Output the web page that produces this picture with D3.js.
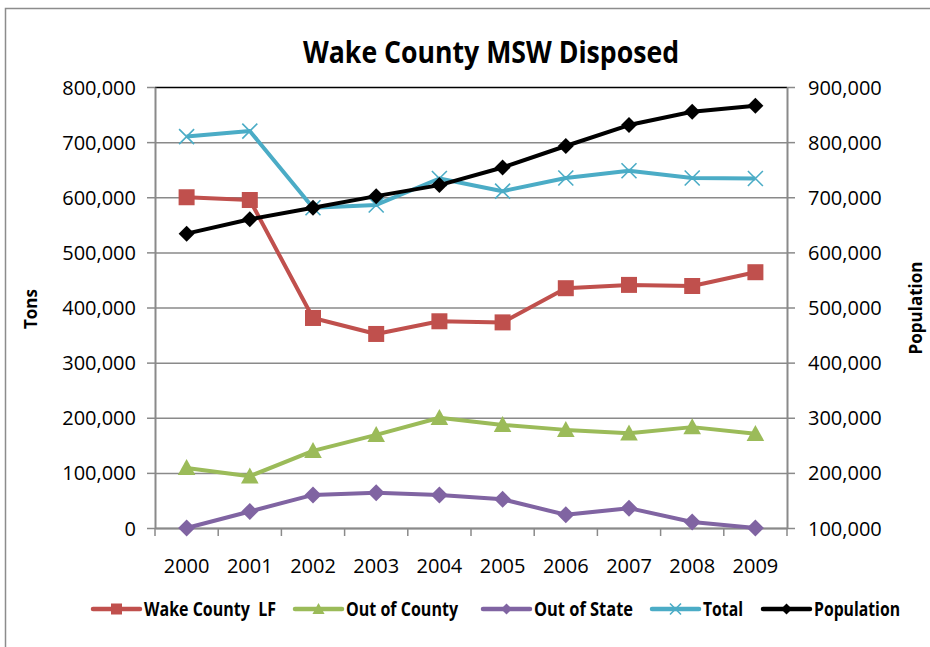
<!DOCTYPE html>
<html>
<head>
  <meta charset="utf-8">
  <script src="https://d3js.org/d3.v7.min.js"></script>
  <style>
    body { margin: 0; background: #fff; }
    text { font-family: "Open Sans", sans-serif; fill: #000; }
  </style>
</head>
<body>
  <div id="chart"></div>
  <script type="text/javascript">
  var years = ["2000", "2001", "2002", "2003", "2004", "2005", "2006", "2007", "2008", "2009"];
  var wakeCountyLF = [600000, 595000, 381000, 352000, 375000, 373000, 435000, 441000, 439000, 464000];
  var outOfCounty = [109000, 94000, 140000, 169000, 200000, 187000, 178000, 172000, 183000, 171000];
  var outOfState = [0, 30000, 60000, 64000, 60000, 52000, 24000, 36000, 11000, 0];
  var total = [710000, 720000, 581000, 586000, 634000, 611000, 635000, 648000, 635000, 634000];
  var population = [634000, 660000, 681000, 702000, 722000, 754000, 793000, 831000, 855000, 866000];
  var leftTicks = [0, 100000, 200000, 300000, 400000, 500000, 600000, 700000, 800000];
  var rightTicks = [100000, 200000, 300000, 400000, 500000, 600000, 700000, 800000, 900000];

  var W = 930, H = 647;
  var plotLeft = 155, plotRight = 787, plotTop = 87, plotBottom = 528;

  var svg = d3.select("#chart").append("svg")
      .attr("width", W)
      .attr("height", H);

  // outer chart border
  svg.append("rect")
      .attr("x", 5.5).attr("y", 8.5)
      .attr("width", W + 40).attr("height", H + 40)
      .attr("fill", "#fff")
      .attr("stroke", "#8c8c8c")
      .attr("stroke-width", 1.5);

  var x = d3.scaleBand().domain(years).range([plotLeft, plotRight]).padding(0);
  var yL = d3.scaleLinear().domain([0, 800000]).range([plotBottom, plotTop]);
  var yR = d3.scaleLinear().domain([100000, 900000]).range([plotBottom, plotTop]);
  var cx = function(d, i) { return x(years[i]) + x.bandwidth() / 2; };

  // gridlines
  var grid = svg.append("g")
      .attr("transform", "translate(" + plotLeft + ",0)")
      .call(d3.axisLeft(yL).tickValues(leftTicks).tickSize(-(plotRight - plotLeft)).tickFormat(""));
  grid.select(".domain").remove();
  grid.selectAll("line").attr("stroke", "#8a8a8a").attr("stroke-width", 1.5);
  grid.selectAll(".tick").filter(function(d) { return d === 800000; })
      .select("line").attr("stroke", "#000");

  // left axis
  var axL = svg.append("g")
      .attr("transform", "translate(" + plotLeft + ",0)")
      .call(d3.axisLeft(yL).tickValues(leftTicks).tickSize(8).tickSizeOuter(0).tickPadding(11)
        .tickFormat(d3.format(",")));
  axL.select(".domain").attr("stroke", "#8a8a8a").attr("stroke-width", 2);
  axL.selectAll("line").attr("stroke", "#8a8a8a").attr("stroke-width", 1.5);
  axL.selectAll("text").style("font-size", "20px").attr("dy", "0.35em");

  // right axis
  var axR = svg.append("g")
      .attr("transform", "translate(" + plotRight + ",0)")
      .call(d3.axisRight(yR).tickValues(rightTicks).tickSize(8).tickSizeOuter(0).tickPadding(13)
        .tickFormat(d3.format(",")));
  axR.select(".domain").attr("stroke", "#8a8a8a").attr("stroke-width", 2);
  axR.selectAll("line").attr("stroke", "#8a8a8a").attr("stroke-width", 1.5);
  axR.selectAll("text").style("font-size", "20px").attr("dy", "0.35em");

  // bottom axis: labels centred, ticks at category boundaries
  var axB = svg.append("g")
      .attr("transform", "translate(0," + plotBottom + ")")
      .call(d3.axisBottom(x).tickSize(0).tickPadding(38));
  axB.select(".domain").attr("stroke", "#8a8a8a").attr("stroke-width", 2);
  axB.selectAll("text").style("font-size", "20px").attr("dy", "0.35em");
  var bounds = years.map(function(d) { return x(d); }).concat([x.range()[1]]);
  svg.append("g").selectAll("line")
      .data(bounds)
    .enter().append("line")
      .attr("x1", function(d) { return d; }).attr("x2", function(d) { return d; })
      .attr("y1", plotBottom).attr("y2", plotBottom + 8)
      .attr("stroke", "#8a8a8a").attr("stroke-width", 1.5);

  // title and axis titles
  svg.append("text")
      .attr("x", 491).attr("y", 63)
      .attr("text-anchor", "middle")
      .attr("textLength", 376).attr("lengthAdjust", "spacingAndGlyphs")
      .style("font-size", "30px").style("font-weight", "bold")
      .text("Wake County MSW Disposed");

  svg.append("text")
      .attr("transform", "translate(37,309) rotate(-90)")
      .attr("text-anchor", "middle")
      .style("font-size", "17px").style("font-weight", "bold")
      .text("Tons");

  svg.append("text")
      .attr("transform", "translate(922,308) rotate(-90)")
      .attr("text-anchor", "middle")
      .style("font-size", "17px").style("font-weight", "bold")
      .text("Population");

  // markers
  function drawMarker(g, type, color, s) {
    if (type === "square") {
      g.append("rect").attr("x", -s / 2).attr("y", -s / 2).attr("width", s).attr("height", s)
        .attr("fill", color);
    } else if (type === "triangle") {
      g.append("path").attr("d", "M0," + (-s * 0.55) + "L" + (s * 0.55) + "," + (s * 0.45) + "L" + (-s * 0.55) + "," + (s * 0.45) + "Z")
        .attr("fill", color);
    } else if (type === "diamond") {
      g.append("path").attr("d", "M0," + (-s / 2) + "L" + (s / 2) + ",0L0," + (s / 2) + "L" + (-s / 2) + ",0Z")
        .attr("fill", color);
    } else if (type === "x") {
      var h = s / 2;
      g.append("path").attr("d", "M" + (-h) + "," + (-h) + "L" + h + "," + h + "M" + h + "," + (-h) + "L" + (-h) + "," + h)
        .attr("stroke", color).attr("stroke-width", 1.6).attr("fill", "none");
    }
  }

  var series = [
    { name: "Wake County  LF", values: wakeCountyLF, color: "#C0504D", marker: "square", size: 16, scale: yL },
    { name: "Out of County", values: outOfCounty, color: "#9BBB59", marker: "triangle", size: 16, scale: yL },
    { name: "Out of State", values: outOfState, color: "#8064A2", marker: "diamond", size: 17, scale: yL },
    { name: "Total", values: total, color: "#4BACC6", marker: "x", size: 15, scale: yL },
    { name: "Population", values: population, color: "#000000", marker: "diamond", size: 16, scale: yR }
  ];

  series.forEach(function(s) {
    var line = d3.line()
        .x(function(d, i) { return cx(d, i); })
        .y(function(d) { return s.scale(d); });
    svg.append("path")
        .datum(s.values)
        .attr("d", line)
        .attr("fill", "none")
        .attr("stroke", s.color)
        .attr("stroke-width", 4)
        .attr("stroke-linejoin", "round");
    svg.append("g").selectAll("g")
        .data(s.values)
      .enter().append("g")
        .attr("transform", function(d, i) { return "translate(" + cx(d, i) + "," + s.scale(d) + ")"; })
        .each(function() { drawMarker(d3.select(this), s.marker, s.color, s.size); });
  });

  // legend
  var legendX = [93, 295, 483, 652, 763];
  var legendW = [132, 112, 99, 40, 86];
  var ly = 609;
  series.forEach(function(s, i) {
    var g = svg.append("g").attr("transform", "translate(" + legendX[i] + "," + ly + ")");
    g.append("line").attr("x1", 0).attr("x2", 47).attr("y1", 0).attr("y2", 0)
        .attr("stroke", s.color).attr("stroke-width", 4.5).attr("stroke-linecap", "round");
    var m = g.append("g").attr("transform", "translate(23.5,0)");
    drawMarker(m, s.marker, s.color, 11);
    g.append("text")
        .attr("x", 51).attr("y", 7)
        .attr("textLength", legendW[i]).attr("lengthAdjust", "spacingAndGlyphs")
        .style("font-size", "19px").style("font-weight", "bold")
        .style("white-space", "pre")
        .text(s.name);
  });
  </script>
</body>
</html>
